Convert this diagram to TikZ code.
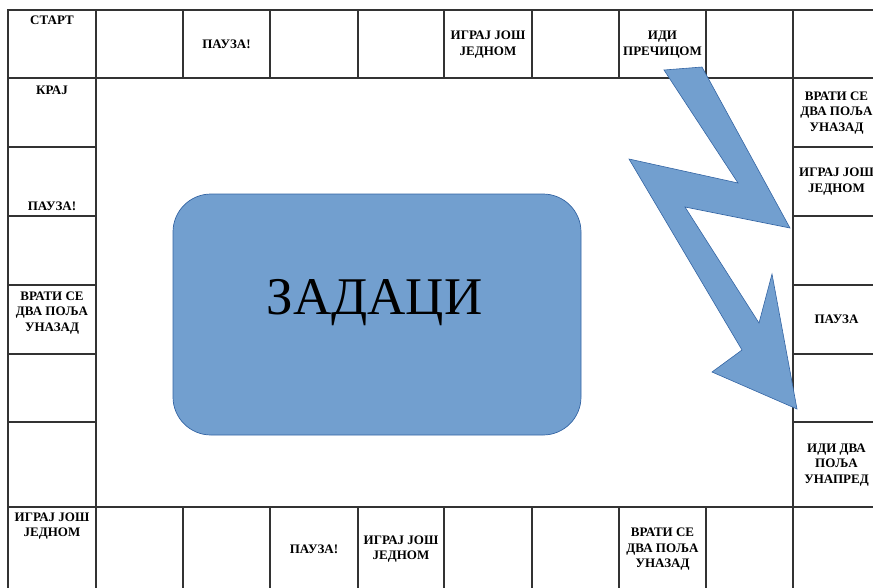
\documentclass[tikz,border=0pt]{standalone}
\usepackage{fontspec}
\setmainfont{Liberation Serif}
\usetikzlibrary{fit}
\definecolor{gridc}{HTML}{333333}
\definecolor{boardblue}{HTML}{729FCF}
\definecolor{boardline}{HTML}{3465A4}
\tikzset{
  cellbox/.style={draw=gridc, line width=1.1pt, inner sep=0pt},
  lbl/.style={font=\bfseries\fontsize{13}{15.5}\selectfont, align=center, inner sep=0pt, text=black},
  taskbox/.style={fill=boardblue, draw=boardline, line width=0.7pt, rounded corners=38pt},
  tasktext/.style={font=\fontsize{53}{60}\selectfont, inner sep=0pt},
  bolt/.style={fill=boardblue, draw=boardline, line width=0.6pt, line join=miter}
}
\begin{document}
\begin{tikzpicture}[x=1pt,y=-1pt]
\useasboundingbox (0,0) rectangle (873,587);
\clip (0,0) rectangle (873,587);
% top row and bottom row
\foreach \xa/\xb [count=\i] in {8/96,96/183,183/270,270/358,358/444,444/532,532/619,619/706,706/793,793/880}{
  \node[cellbox, fit={(\xa,10) (\xb,78)}] (t\i) {};
  \node[cellbox, fit={(\xa,507) (\xb,591)}] (b\i) {};
}
% side columns
\foreach \ya/\yb [count=\j] in {78/147,147/216,216/285,285/354,354/422,422/507}{
  \node[cellbox, fit={(8,\ya) (96,\yb)}] (l\j) {};
  \node[cellbox, fit={(793,\ya) (880,\yb)}] (r\j) {};
}
% centre box
\node[taskbox, minimum width=408pt, minimum height=241pt] (tasks) at (377,314.5) {};
\node[tasktext] (taskslbl) at (374.5,302.5) {ЗАДАЦИ};
% lightning bolt
\draw[bolt] (664,70) -- (702,67) -- (790,228) -- (685,207) -- (759,323) -- (772,274)
  -- (797,409) -- (712,372) -- (742,350) -- (629,159) -- (738,183) -- cycle;
% labels top row
\node[lbl] (ttxt1) at (52,20) {СТАРТ};
\node[lbl] (ttxt3) at (226.5,44) {ПАУЗА!};
\node[lbl] (ttxt6) at (488,44.5) {ИГРАЈ ЈОШ\\ЈЕДНОМ};
\node[lbl] (ttxt8) at (662.5,44.5) {ИДИ\\ПРЕЧИЦОМ};
% left column
\node[lbl] (ltxt1) at (52,90) {КРАЈ};
\node[lbl] (ltxt2) at (52,206) {ПАУЗА!};
\node[lbl] (ltxt4) at (52,313) {ВРАТИ СЕ\\ДВА ПОЉА\\УНАЗАД};
% bottom row
\node[lbl] (btxt1) at (52,526) {ИГРАЈ ЈОШ\\ЈЕДНОМ};
\node[lbl] (btxt4) at (314,549) {ПАУЗА!};
\node[lbl] (btxt5) at (401,549) {ИГРАЈ ЈОШ\\ЈЕДНОМ};
\node[lbl] (btxt8) at (662.5,549.5) {ВРАТИ СЕ\\ДВА ПОЉА\\УНАЗАД};
% right column
\node[lbl] (rtxt1) at (836.5,113) {ВРАТИ СЕ\\ДВА ПОЉА\\УНАЗАД};
\node[lbl] (rtxt2) at (836.5,181.5) {ИГРАЈ ЈОШ\\ЈЕДНОМ};
\node[lbl] (rtxt4) at (836.5,319.5) {ПАУЗА};
\node[lbl] (rtxt6) at (836.5,465) {ИДИ ДВА\\ПОЉА\\УНАПРЕД};
\end{tikzpicture}
\end{document}
